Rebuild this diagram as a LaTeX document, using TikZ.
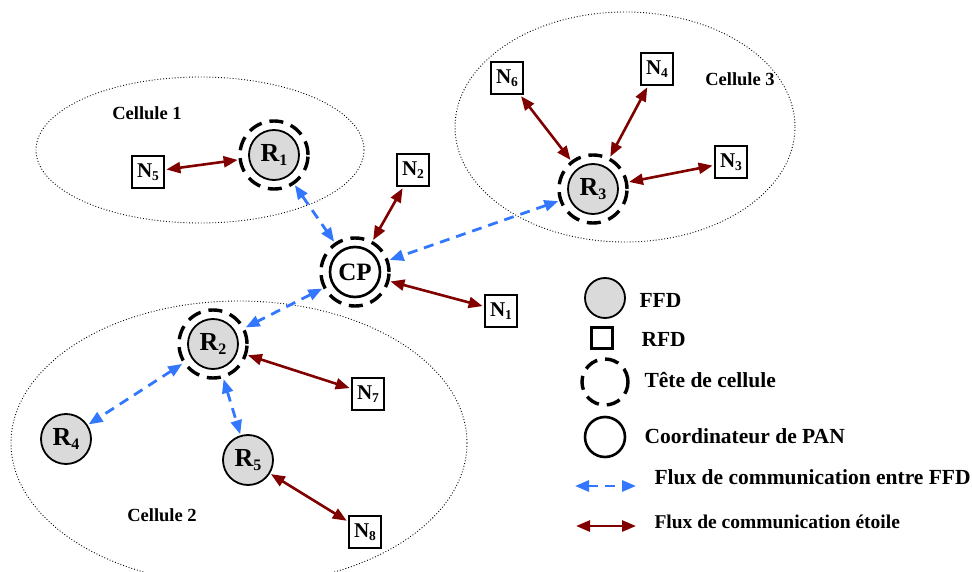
\documentclass[tikz,border=0pt]{standalone}
\usepackage{fontspec}
\setmainfont{Liberation Serif}
\usetikzlibrary{arrows.meta}
\definecolor{lred}{HTML}{800000}
\definecolor{lblue}{HTML}{3377FF}
\definecolor{ffdgray}{HTML}{DADADA}
\newcommand\Rl[1]{{\fontsize{26}{26}\selectfont R}\raisebox{-4.5pt}{\fontsize{16}{16}\selectfont #1}}
\newcommand\Nl[1]{{\fontsize{21}{21}\selectfont N}\raisebox{-3.5pt}{\fontsize{13.5}{13.5}\selectfont #1}}
\begin{document}
\begin{tikzpicture}[x=1pt,y=-1pt,
  ffd/.style={circle, draw, line width=1.8pt, fill=ffdgray, minimum size=50pt, inner sep=0pt, font=\bfseries},
  pan/.style={circle, draw, line width=2.6pt, fill=white, minimum size=50pt, inner sep=0pt, font=\bfseries\fontsize{25}{25}\selectfont},
  ring/.style={circle, draw, line width=3.4pt, dash pattern=on 14pt off 8pt, minimum size=68pt, inner sep=0pt},
  rfd/.style={draw, line width=2.8pt, minimum size=32pt, inner sep=0pt, fill=white, font=\bfseries},
  star/.style={draw=lred, line width=2.6pt, {Triangle[length=14pt,width=11pt]}-{Triangle[length=14pt,width=11pt]}, shorten <=1pt, shorten >=1pt},
  mesh/.style={draw=lblue, line width=2.8pt, dash pattern=on 10pt off 7pt, {Triangle[length=14pt,width=11pt]}-{Triangle[length=14pt,width=11pt]}, shorten <=1pt, shorten >=1pt},
  cell/.style={draw, dotted, line width=0.9pt},
  celltxt/.style={font=\bfseries\fontsize{18.5}{18.5}\selectfont},
  legtxt/.style={anchor=west, font=\bfseries\fontsize{21.5}{21.5}\selectfont}
]
\useasboundingbox (0,0) rectangle (972,572);

% cells
\draw[cell] (200,150) ellipse [x radius=164, y radius=73];
\draw[cell] (625,127) ellipse [x radius=170, y radius=115];
\draw[cell] (239,443) ellipse [x radius=228, y radius=142];
\node[celltxt] (c1) at (147,113) {Cellule 1};
\node[celltxt] (c3) at (740,79) {Cellule 3};
\node[celltxt] (c2) at (162,515) {Cellule 2};

% FFD nodes
\node[ffd] (R1) at (274,155) {\Rl{1}};
\node[ring] (R1o) at (274,155) {};
\node[ffd] (R3) at (593,189) {\Rl{3}};
\node[ring] (R3o) at (593,189) {};
\node[ffd] (R2) at (213,344) {\Rl{2}};
\node[ring] (R2o) at (213,344) {};
\node[ffd] (R4) at (66,439) {\Rl{4}};
\node[ffd] (R5) at (248,460) {\Rl{5}};
\node[pan] (CP) at (355,272) {CP};
\node[ring] (CPo) at (355,272) {};

% RFD nodes
\node[rfd] (N5) at (148,172) {\Nl{5}};
\node[rfd] (N2) at (413,170) {\Nl{2}};
\node[rfd] (N6) at (507,78) {\Nl{6}};
\node[rfd] (N4) at (657,69) {\Nl{4}};
\node[rfd] (N3) at (731,162) {\Nl{3}};
\node[rfd] (N1) at (501,311) {\Nl{1}};
\node[rfd] (N7) at (368,394) {\Nl{7}};
\node[rfd] (N8) at (365,532) {\Nl{8}};

% FFD links
\draw[mesh] (R1o) -- (CPo);
\draw[mesh] (R3o) -- (CPo);
\draw[mesh] (CPo) -- (R2o);
\draw[mesh] (R2o) -- (R4);
\draw[mesh] (R2o) -- (R5);

% star links
\draw[star] (N5) -- (R1o);
\draw[star] (N2) -- (CPo);
\draw[star] (N1) -- (CPo);
\draw[star] (N6) -- (R3o);
\draw[star] (N4) -- (R3o);
\draw[star] (N3) -- (R3o);
\draw[star] (N7) -- (R2o);
\draw[star] (N8) -- (R5);

% legend
\node[circle, draw, line width=1.8pt, fill=ffdgray, minimum size=40pt, inner sep=0pt] (lf) at (605,298) {};
\node[legtxt] (lft) at (636,300) {FFD};
\node[draw, line width=2.4pt, minimum size=21pt, inner sep=0pt] (lr) at (602,338) {};
\node[legtxt] (lrt) at (638,339) {RFD};
\node[circle, draw, line width=3.4pt, dash pattern=on 14pt off 8pt, minimum size=46pt, inner sep=0pt] (lt) at (605,382) {};
\node[legtxt] (ltt) at (641,380) {Tête de cellule};
\node[circle, draw, line width=2.6pt, minimum size=40pt, inner sep=0pt] (lc) at (605,437) {};
\node[legtxt] (lct) at (641,436) {Coordinateur de PAN};
\coordinate (lb1) at (575,486);
\coordinate (lb2) at (636,486);
\draw[mesh, shorten <=0pt, shorten >=0pt] (lb1) -- (lb2);
\node[legtxt] (lbt) at (651,477) {Flux de communication entre FFD};
\coordinate (ls1) at (576,526);
\coordinate (ls2) at (636,526);
\draw[star, shorten <=0pt, shorten >=0pt] (ls1) -- (ls2);
\node[legtxt, font=\bfseries\fontsize{19.5}{19.5}\selectfont] (lst) at (651,522) {Flux de communication étoile};
\end{tikzpicture}
\end{document}
